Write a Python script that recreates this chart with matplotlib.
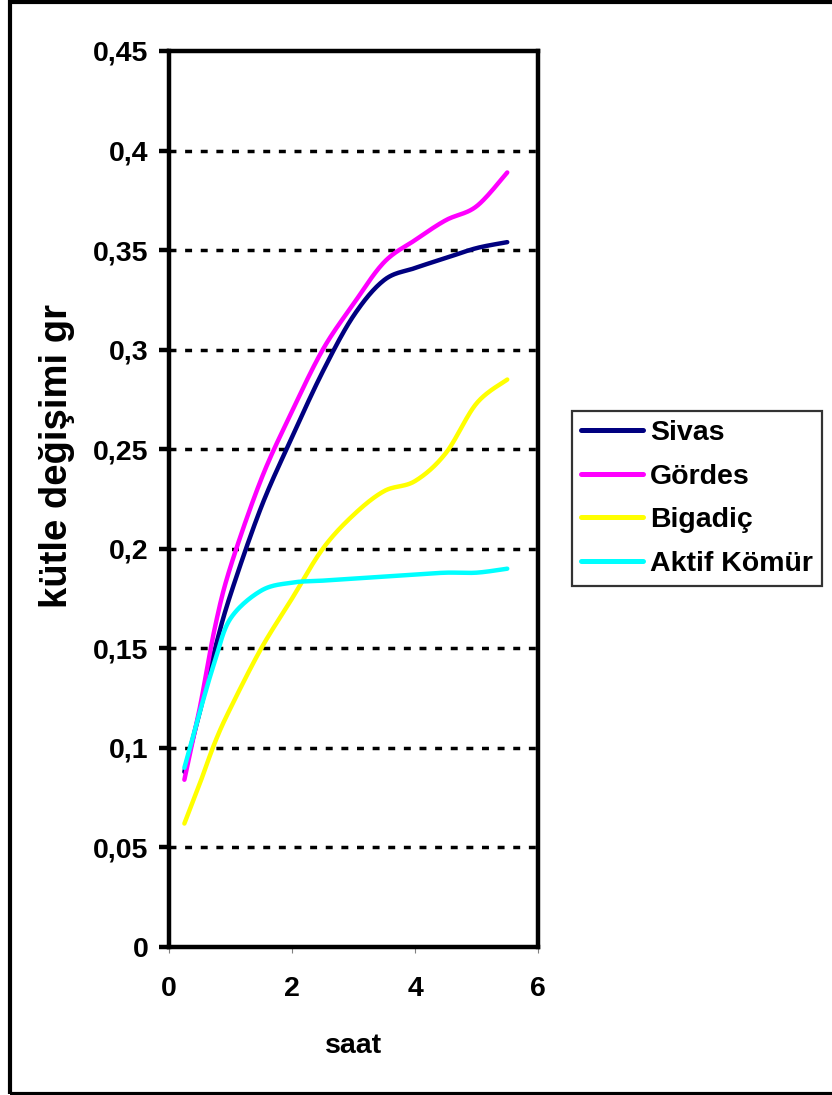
import numpy as np
import matplotlib
matplotlib.use("Agg")
import matplotlib.pyplot as plt
from matplotlib.patches import Rectangle

plt.rcParams['font.family'] = ['Liberation Sans', 'DejaVu Sans']
plt.rcParams['font.weight'] = 'bold'

# time in hours and mass change in grams for each sample
saat = [0.25, 0.5, 0.75, 1, 1.5, 2, 2.5, 3, 3.5, 4, 4.5, 5, 5.5]
sivas = [0.088, 0.118, 0.150, 0.177, 0.221, 0.256, 0.289, 0.317, 0.335, 0.341, 0.346, 0.351, 0.354]
gordes = [0.084, 0.120, 0.161, 0.191, 0.235, 0.269, 0.300, 0.323, 0.344, 0.355, 0.365, 0.372, 0.389]
bigadic = [0.062, 0.082, 0.103, 0.120, 0.150, 0.175, 0.200, 0.217, 0.229, 0.234, 0.248, 0.273, 0.285]
aktif = [0.090, 0.118, 0.144, 0.165, 0.179, 0.183, 0.184, 0.185, 0.186, 0.187, 0.188, 0.188, 0.190]

series = [("Sivas", sivas, "#000080"),
          ("Gördes", gordes, "#FF00FF"),
          ("Bigadiç", bigadic, "#FFFF00"),
          ("Aktif Kömür", aktif, "#00FFFF")]

yticks = [0, 0.05, 0.1, 0.15, 0.2, 0.25, 0.3, 0.35, 0.4, 0.45]
ytick_labels = ["0", "0,05", "0,1", "0,15", "0,2", "0,25", "0,3", "0,35", "0,4", "0,45"]
xticks = [0, 2, 4, 6]


def smooth(x, y, n=25):
    # bezier through the points, control points from neighbours (1/6 tension)
    pts = np.column_stack([x, y]).astype(float)
    t = np.linspace(0, 1, n)[:, None]
    out = []
    for i in range(len(pts) - 1):
        p0 = pts[i - 1] if i > 0 else pts[i]
        p1, p2 = pts[i], pts[i + 1]
        p3 = pts[i + 2] if i + 2 < len(pts) else pts[i + 1]
        c1 = p1 + (p2 - p0) / 6
        c2 = p2 - (p3 - p1) / 6
        seg = (1 - t) ** 3 * p1 + 3 * (1 - t) ** 2 * t * c1 + 3 * (1 - t) * t ** 2 * c2 + t ** 3 * p2
        out.append(seg if i == 0 else seg[1:])
    out = np.vstack(out)
    return out[:, 0], out[:, 1]


W, H = 832, 1095
fig = plt.figure(figsize=(W / 100, H / 100), dpi=100)
ax = fig.add_axes([169 / W, 1 - 947 / H, (538 - 169) / W, (947 - 51) / H])

for y in yticks[1:-1]:
    ax.axhline(y, color='black', lw=2.5, dashes=(2.0, 2.5), zorder=1)

for name, vals, col in series:
    sx, sy = smooth(saat, vals)
    ax.plot(sx, sy, color=col, lw=3.2, solid_capstyle='round', label=name, zorder=3)

ax.set_xlim(0, 6)
ax.set_ylim(0, 0.45)
ax.set_xticks(xticks)
ax.set_xticklabels([str(v) for v in xticks])
ax.set_yticks(yticks)
ax.set_yticklabels(ytick_labels)

for s in ax.spines.values():
    s.set_linewidth(3.2)
    s.set_color('black')
    s.set_zorder(4)

ax.tick_params(axis='y', direction='out', length=7, width=3.2, color='black',
               pad=8, labelsize=20.5)
ax.tick_params(axis='x', direction='out', length=4, width=0.8, color='#808080',
               pad=17, labelsize=20.5)

ax.set_xlabel("saat", fontsize=20.5, fontweight='bold', labelpad=22)
fig.text(57 / W, 1 - 456 / H, "kütle değişimi gr", rotation=90,
         ha='center', va='center', fontsize=27.5, fontweight='bold')

leg = ax.legend(loc='upper left', bbox_to_anchor=(572 / W, 1 - 410.7 / H),
                bbox_transform=fig.transFigure, borderaxespad=0,
                fontsize=20.5, frameon=True, fancybox=False,
                handlelength=2.18, handletextpad=0.22, labelspacing=0.62,
                borderpad=0.33)
leg.get_frame().set_edgecolor('black')
leg.get_frame().set_linewidth(1.6)
for line in leg.get_lines():
    line.set_linewidth(3.6)

# outer chart border (open on the right side)
fig.patches.append(Rectangle((9.5 / W, 1.5 / H), (850 - 9.5) / W, (1093.5 - 1.5) / H,
                             transform=fig.transFigure, fill=False,
                             edgecolor='black', lw=3, clip_on=False))

fig.savefig("out.png", dpi=100, facecolor='white')
